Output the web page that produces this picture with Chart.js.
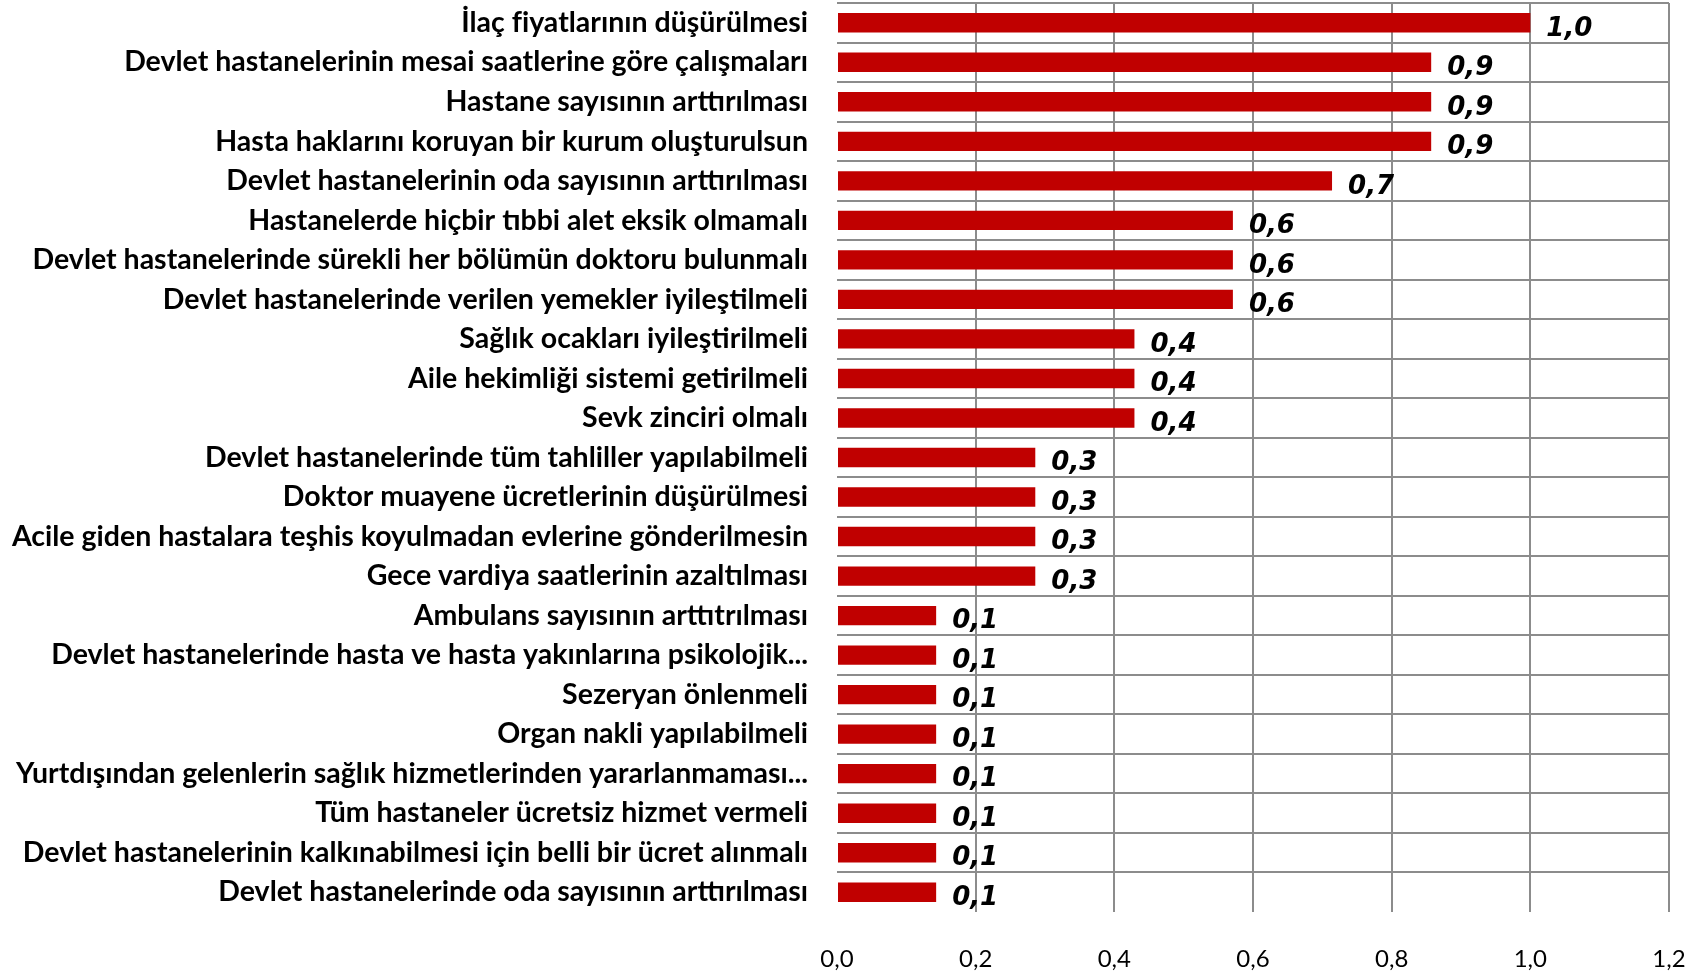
<!DOCTYPE html>
<html lang="tr">
<head>
<meta charset="utf-8">
<title>Sağlık hizmetlerine yönelik öneriler</title>
<script src="https://cdn.jsdelivr.net/npm/chart.js@4.4.0/dist/chart.umd.min.js"></script>
<style>
  html, body { margin: 0; padding: 0; background: #ffffff; }
  #wrap { width: 1705px; height: 974px; position: relative; }
  canvas { display: block; }
</style>
</head>
<body>
<div id="wrap"><canvas id="chart" width="1705" height="974"></canvas></div>
<script>
// Suggestions (top to bottom) and their scores
const categories = [
  'İlaç fiyatlarının düşürülmesi',
  'Devlet hastanelerinin mesai saatlerine göre çalışmaları',
  'Hastane sayısının arttırılması',
  'Hasta haklarını koruyan bir kurum oluşturulsun',
  'Devlet hastanelerinin oda sayısının arttırılması',
  'Hastanelerde hiçbir tıbbi alet eksik olmamalı',
  'Devlet hastanelerinde sürekli her bölümün doktoru bulunmalı',
  'Devlet hastanelerinde verilen yemekler iyileştilmeli',
  'Sağlık ocakları iyileştirilmeli',
  'Aile hekimliği sistemi getirilmeli',
  'Sevk zinciri olmalı',
  'Devlet hastanelerinde tüm tahliller yapılabilmeli',
  'Doktor muayene ücretlerinin düşürülmesi',
  'Acile giden hastalara teşhis koyulmadan evlerine gönderilmesin',
  'Gece vardiya saatlerinin azaltılması',
  'Ambulans sayısının arttıtrılması',
  'Devlet hastanelerinde hasta ve hasta yakınlarına psikolojik...',
  'Sezeryan önlenmeli',
  'Organ nakli yapılabilmeli',
  'Yurtdışından gelenlerin sağlık hizmetlerinden yararlanmaması...',
  'Tüm hastaneler ücretsiz hizmet vermeli',
  'Devlet hastanelerinin kalkınabilmesi için belli bir ücret alınmalı',
  'Devlet hastanelerinde oda sayısının arttırılması'
];

const scores = [
  1.000, 0.857, 0.857, 0.857, 0.714,
  0.571, 0.571, 0.571,
  0.429, 0.429, 0.429,
  0.286, 0.286, 0.286, 0.286,
  0.143, 0.143, 0.143, 0.143, 0.143, 0.143, 0.143, 0.143
];

const xTicks = [0, 0.2, 0.4, 0.6, 0.8, 1.0, 1.2];

const fmt = v => v.toFixed(1).replace('.', ',');

const GRID = '#8c8c8c';
const BAR = '#c00000';
const NONE = 'rgba(0,0,0,0)';

// Writes each bar's value just past its end
const valueLabels = {
  id: 'valueLabels',
  afterDatasetsDraw(chart) {
    const ctx = chart.ctx;
    const meta = chart.getDatasetMeta(0);
    ctx.save();
    ctx.font = 'italic bold 26px "DejaVu Sans"';
    ctx.fillStyle = '#000000';
    ctx.textAlign = 'left';
    ctx.textBaseline = 'middle';
    meta.data.forEach((bar, i) => {
      const v = chart.data.datasets[0].data[i];
      ctx.fillText(fmt(v), bar.x + 16, bar.y + 6);
    });
    ctx.restore();
  }
};

new Chart(document.getElementById('chart'), {
  type: 'bar',
  data: {
    labels: categories,
    datasets: [{
      data: scores,
      backgroundColor: BAR,
      borderWidth: 0,
      barPercentage: 0.49,
      categoryPercentage: 1.0
    }]
  },
  options: {
    indexAxis: 'y',
    responsive: false,
    animation: false,
    devicePixelRatio: 1,
    layout: { padding: { top: 3, right: 36, left: 0, bottom: 0 } },
    plugins: {
      legend: { display: false },
      tooltip: { enabled: false }
    },
    scales: {
      x: {
        min: 0,
        max: 1.2,
        afterBuildTicks: scale => { scale.ticks = xTicks.map(v => ({ value: v })); },
        afterFit: scale => {
          scale.height = 62;
          scale.paddingLeft = 0;
          scale.paddingRight = 0;
        },
        ticks: {
          callback: v => fmt(v),
          color: '#000000',
          font: { family: 'Lato', size: 24, weight: 'normal' },
          padding: 33,
          maxRotation: 0
        },
        grid: {
          lineWidth: 2,
          drawTicks: false,
          // no line along the zero value
          color: c => (c.type === 'tick' && c.tick.value === 0 ? NONE : GRID)
        },
        border: { display: false }
      },
      y: {
        afterFit: scale => {
          scale.width = 837;
          scale.paddingTop = 0;
          scale.paddingBottom = 0;
        },
        ticks: {
          color: '#000000',
          font: { family: 'Lato', size: 28.5, weight: 'bold' },
          padding: 29,
          autoSkip: false
        },
        grid: {
          offset: true,
          lineWidth: 2,
          drawTicks: false,
          // lines between categories and along the top; none along the bottom
          color: c => (c.type === 'tick' ? GRID : NONE)
        },
        border: { display: false }
      }
    }
  },
  plugins: [valueLabels]
});
</script>
</body>
</html>
